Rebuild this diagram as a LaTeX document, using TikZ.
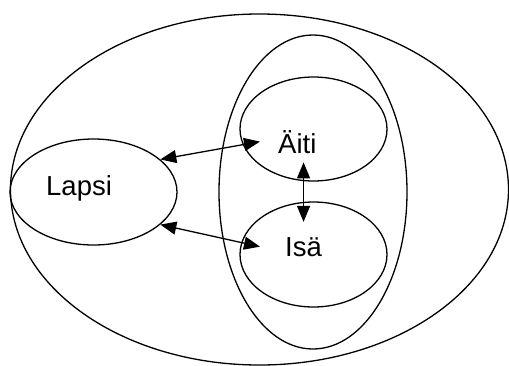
\documentclass[tikz,border=0pt]{standalone}
\usepackage{fontspec}
\setmainfont{Liberation Sans}
\usetikzlibrary{shapes.geometric,arrows.meta}

\begin{document}
\begin{tikzpicture}[x=1pt,y=-1pt]
\tikzstyle{every node}=[font=\fontsize{27.5}{32}\selectfont]
\tikzstyle{soikio}=[draw,ellipse,line width=1.3pt,inner sep=0pt]
\tikzstyle{teksti}=[inner sep=0pt,anchor=base west]
\tikzstyle{nuoli}=[line width=1.3pt,{Triangle[length=16pt,width=13pt]}-{Triangle[length=16pt,width=13pt]}]
\useasboundingbox (0,0) rectangle (509,365);
% soikiot
\node[soikio,minimum width=498pt,minimum height=351pt](perhe) at (259.5,189.5){};
\node[soikio,minimum width=188pt,minimum height=314pt](vanhemmat) at (313,192){};
\node[soikio,minimum width=147pt,minimum height=104pt](aiti) at (313.5,129){};
\node[soikio,minimum width=147pt,minimum height=105pt](isa) at (313.5,254.5){};
\node[soikio,minimum width=167pt,minimum height=106pt](lapsi) at (93.5,192){};
% tekstit
\node[teksti](lapsitxt) at (46,195){Lapsi};
\node[teksti](aititxt) at (278,153){Äiti};
\node[teksti](isatxt) at (285,256){Isä};
% nuolet
\draw[nuoli](lapsi.26)--([xshift=-18pt]aititxt.west);
\draw[nuoli](lapsi.-26)--([xshift=-25pt]isatxt.west);
\draw[nuoli]([yshift=-9pt]aititxt.south -| isatxt.north)--([yshift=15pt]isatxt.north);

\end{tikzpicture}
\end{document}
